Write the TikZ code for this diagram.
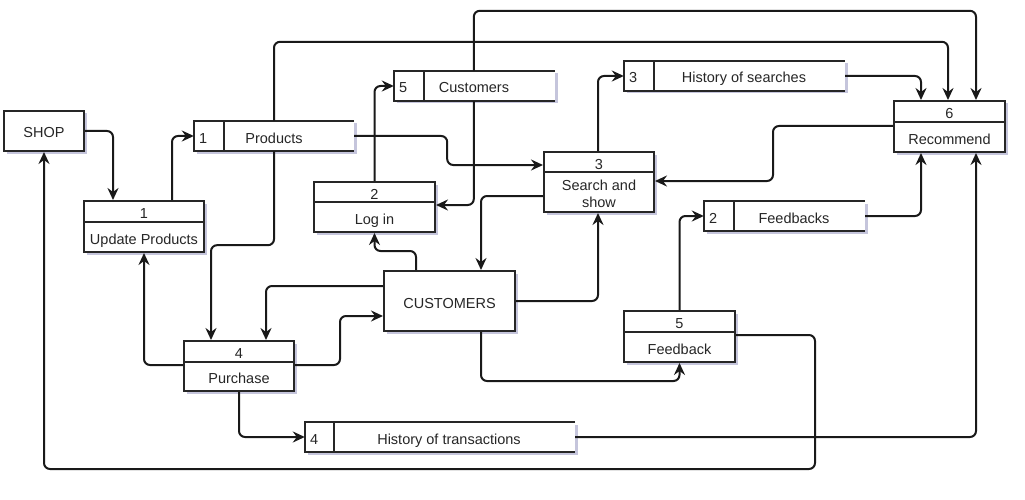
\documentclass[tikz,border=0pt]{standalone}
\usepackage{fontspec}
\setmainfont{Liberation Sans}
\usetikzlibrary{arrows.meta,calc,fit,shadows}

\tikzset{
 txt/.style={font=\fontsize{14.5}{17}\selectfont, inner sep=0pt, text=black!85, text height=15pt, text depth=1pt},
 boxline/.style={line width=2pt, draw=black!85},
 shad/.style={drop shadow={shadow xshift=2.5pt, shadow yshift=-2.5pt, opacity=0.3, fill=black!40!blue!50!gray}},
 procbox/.style={rectangle, inner sep=0pt, boxline, fill=white, shad},
 storebox/.style={rectangle, inner sep=0pt, fill=white, shad},
 entbox/.style={rectangle, inner sep=0pt, boxline, fill=white, shad},
 flow/.style={line width=2pt, draw=black!90, rounded corners=6pt, -{Stealth[length=12pt,width=11pt,inset=4pt]}},
}

% #1 name, #2 x1, #3 y1, #4 x2, #5 y2, #6 y of divider, #7 number, #8 label
\newcommand\mkproc[8]{%
  \node[procbox, fit={(#2,#3) (#4,#5)}] (#1) {};
  \draw[boxline] (#2,#6) -- (#4,#6);
  \node[txt] at ({(#2+#4)/2},{(#3+#6)/2}) {#7};
  \node[txt, align=center] at ({(#2+#4)/2},{(#6+#5)/2}) {#8};
}
% #1 name, #2 x1, #3 y1, #4 x2, #5 y2, #6 x of divider, #7 number, #8 text centre x, #9 label
\newcommand\mkstore[9]{%
  \node[storebox, fit={(#2,#3) (#4,#5)}] (#1) {};
  \draw[boxline] (#4,#3) -- (#2,#3) -- (#2,#5) -- (#4,#5);
  \draw[boxline] (#6,#3) -- (#6,#5);
  \node[txt, anchor=west] at ({#2+5},{(#3+#5)/2}) {#7};
  \node[txt] at (#8,{(#3+#5)/2}) {#9};
}

\begin{document}
\begin{tikzpicture}[x=1pt, y=-1pt]
\useasboundingbox (0,0) rectangle (1025,500);

% external entities
\node[entbox, fit={(4,111) (84,151)}] (shop) {};
\node[txt] at (shop.center) {SHOP};
\node[entbox, fit={(384,271) (515,331)}] (custm) {};
\node[txt] at (custm.center) {CUSTOMERS};

% processes
\mkproc{upd}{84}{201}{204}{252}{222}{1}{Update Products}
\mkproc{login}{314}{182}{435}{232}{202}{2}{Log in}
\mkproc{rec}{894}{101}{1005}{152}{122}{6}{Recommend}
\mkproc{fb}{624}{311}{735}{362}{332}{5}{Feedback}
\mkproc{pur}{184}{341}{294}{391}{362}{4}{Purchase}
\node[procbox, fit={(544,152) (654,212)}] (srch) {};
\draw[boxline] (544,172) -- (654,172);
\node[txt] at (599,162) {3};
\node[txt] at (599,183.5) {Search and};
\node[txt] at (599,200.5) {show};

% data stores
\mkstore{prod}{194}{121}{354}{151}{224}{1}{274}{Products}
\mkstore{custs}{394}{71}{555}{101}{424}{5}{474}{Customers}
\mkstore{hsrch}{624}{61}{845}{91}{654}{3}{744}{History of searches}
\mkstore{fbst}{704}{201}{865}{231}{734}{2}{794}{Feedbacks}
\mkstore{htrans}{305}{422}{575}{452}{334}{4}{449}{History of transactions}

% flows
\draw[flow] (shop.east) -| ($(upd.north west)+(30,0)$);
\draw[flow] ($(upd.north west)+(89,0)$) |- (prod.west);
\draw[flow] (login.north) |- (custs.west);
\draw[flow] ($(custs.south west)+(80,0)$) |- ($(login.north east)+(0,24)$);
\draw[flow] ($(custs.north west)+(80,0)$) -- ++(0,-60) -| ($(rec.north west)+(83,0)$);
\draw[flow] (prod.north) -- ++(0,-79) -| ($(rec.north west)+(55,0)$);
\draw[flow] (prod.south) -- ++(0,94) -| ($(pur.north west)+(28,0)$);
\draw[flow] (prod.east) -- ++(93,0) |- ($(srch.north west)+(0,14)$);
\draw[flow] ($(srch.north west)+(55,0)$) |- (hsrch.west);
\draw[flow] (hsrch.east) -| ($(rec.north west)+(28,0)$);
\draw[flow] ($(rec.north west)+(0,26)$) -- ++(-120,0) |- ($(srch.north east)+(0,30)$);
\draw[flow] ($(srch.north west)+(0,45)$) -| ($(custm.north west)+(98,0)$);
\draw[flow] (custm.east) -| ($(srch.south west)+(55,0)$);
\draw[flow] ($(custm.south west)+(98,0)$) -- ++(0,49) -| (fb.south);
\draw[flow] (fb.north) |- (fbst.west);
\draw[flow] (fbst.east) -| ($(rec.south west)+(28,0)$);
\draw[flow] ($(fb.north east)+(0,25)$) -- ++(79,0) -- ++(0,134) -| (shop.south);
\draw[flow] (htrans.east) -| ($(rec.south west)+(83,0)$);
\draw[flow] ($(pur.south west)+(56,0)$) |- (htrans.west);
\draw[flow] ($(pur.north west)+(0,25)$) -| (upd.south);
\draw[flow] ($(pur.north east)+(0,25)$) -- ++(45,0) |- ($(custm.north west)+(0,46)$);
\draw[flow] ($(custm.north west)+(0,16)$) -| ($(pur.north west)+(83,0)$);
\draw[flow] ($(custm.north west)+(33,0)$) -- ++(0,-19) -| (login.south);
\end{tikzpicture}
\end{document}
